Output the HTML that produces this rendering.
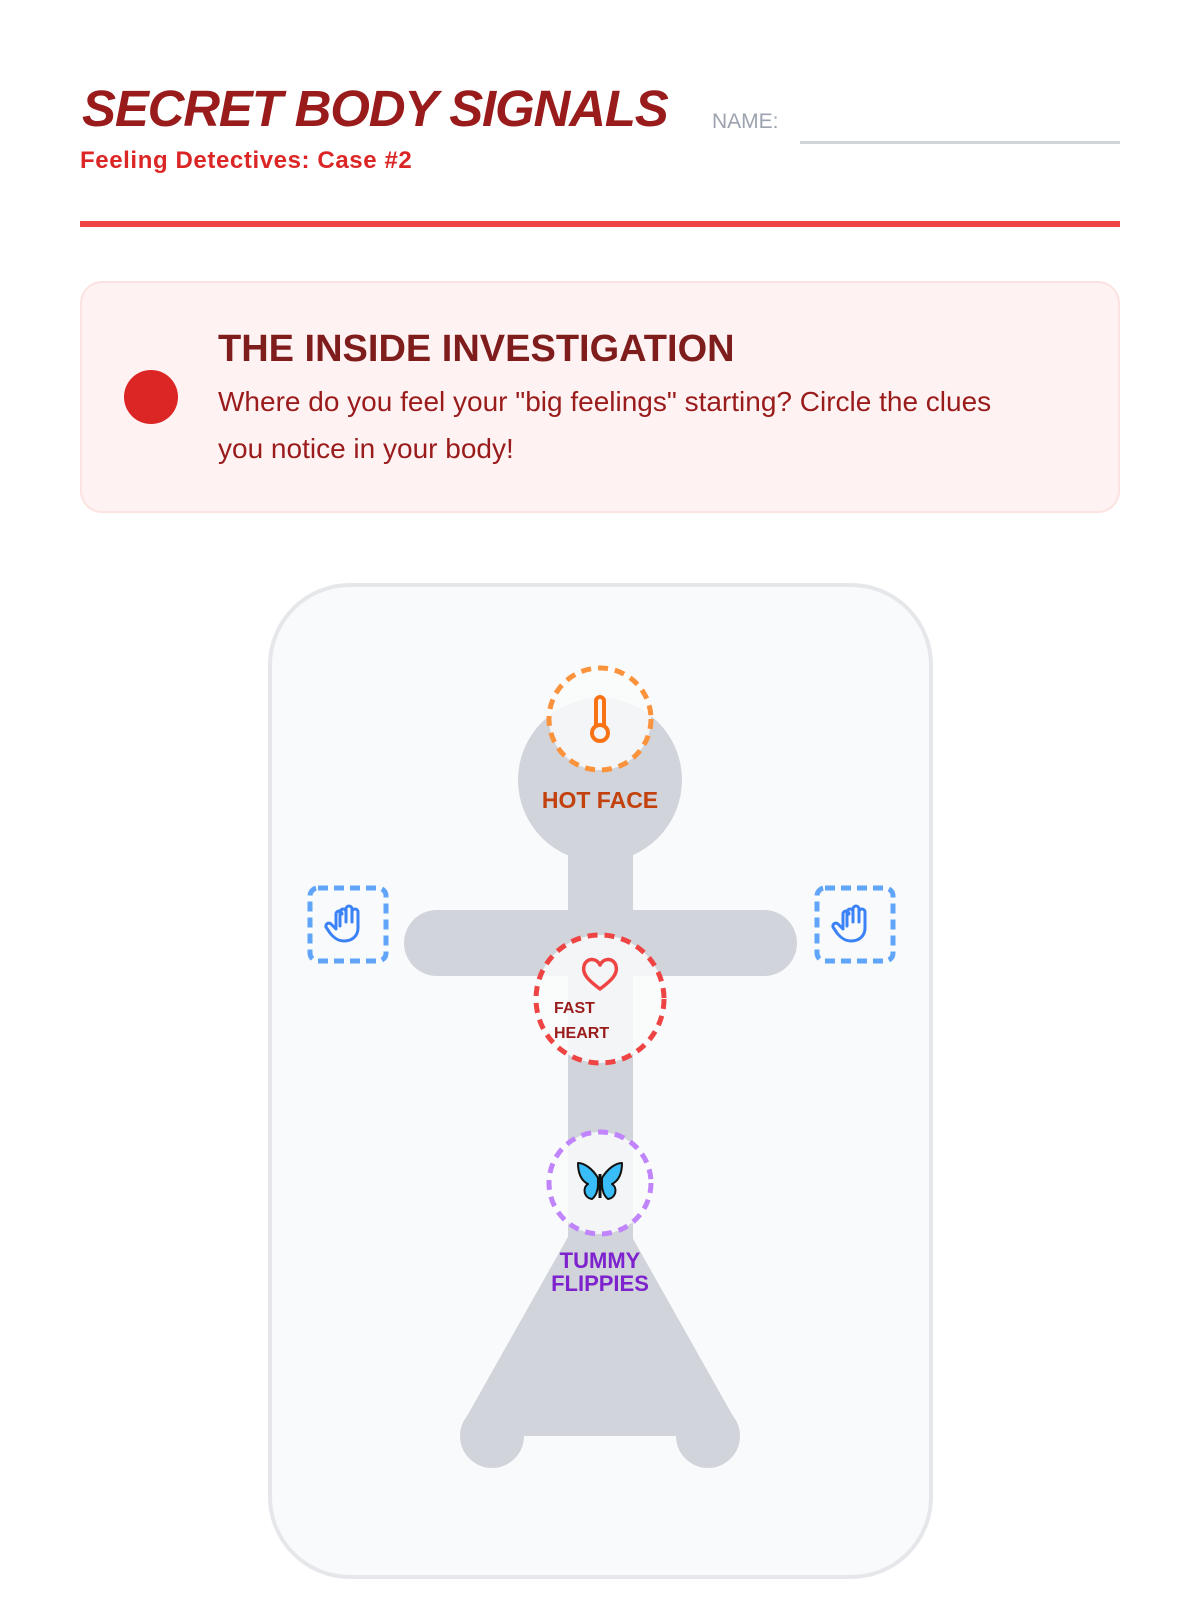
<!DOCTYPE html>
<html><head><meta charset="utf-8"><style>
html,body{margin:0;padding:0;background:#fff;width:1200px;height:1600px;overflow:hidden;font-family:"Liberation Sans",sans-serif;}
.a{position:absolute;}
</style></head><body>
<div class="a" style="left:82px;top:79px;font-size:51px;font-weight:bold;font-style:italic;color:#991b1b;letter-spacing:-1.2px;">SECRET BODY SIGNALS</div>
<div class="a" style="left:80px;top:147px;font-size:24px;font-weight:bold;color:#dc2626;letter-spacing:0.6px;">Feeling Detectives: Case #2</div>
<div class="a" style="left:712px;top:110px;font-size:21px;color:#9ca3af;">NAME:</div>
<div class="a" style="left:800px;top:141px;width:320px;height:3px;background:#d1d5db;"></div>
<div class="a" style="left:80px;top:221px;width:1040px;height:6px;background:#ef4444;"></div>
<div class="a" style="left:80px;top:281px;width:1036px;height:228px;border:2px solid #fde2e2;border-radius:22px;background:#fef2f2;"></div>
<div class="a" style="left:124px;top:370px;width:54px;height:54px;border-radius:50%;background:#dc2626;"></div>
<div class="a" style="left:218px;top:328px;font-size:38px;font-weight:bold;color:#7f1d1d;">THE INSIDE INVESTIGATION</div>
<div class="a" style="left:218px;top:378px;width:820px;font-size:28px;line-height:47px;color:#991b1b;">Where do you feel your "big feelings" starting? Circle the clues you notice in your body!</div>
<svg class="a" style="left:0;top:0" width="1200" height="1600">
<rect x="270" y="585" width="661" height="992" rx="80" fill="#f9fafb" stroke="#e5e7eb" stroke-width="4"/>
<g fill="#d1d5db">
<circle cx="600" cy="780" r="82"/>
<rect x="568" y="840" width="65" height="400"/>
<rect x="404" y="910" width="393" height="66" rx="33"/>
<polygon points="600,1180 738,1425 708,1436 492,1436 462,1425"/>
<circle cx="492" cy="1436" r="32"/>
<circle cx="708" cy="1436" r="32"/>
</g>
<circle cx="600" cy="719" r="51" fill="#fafafa" fill-opacity="0.85" stroke="#fb923c" stroke-width="5" stroke-dasharray="10,7"/>
<g stroke="#f97316" stroke-width="4" fill="none"><path d="M596,727 V701 a4,4 0 0 1 8,0 V727"/><circle cx="600" cy="733" r="8"/></g>
<text x="600" y="808" text-anchor="middle" font-size="23" font-weight="bold" fill="#c2410c" font-family="Liberation Sans">HOT FACE</text>
<circle cx="600" cy="999" r="64" fill="#fafafa" fill-opacity="0.85" stroke="#ef4444" stroke-width="5" stroke-dasharray="10,7"/>
<path d="M600,989 C588,980 582,974 584,966 C586,958 596,957 600,965 C604,957 614,958 616,966 C618,974 612,980 600,989 Z" fill="none" stroke="#ef4444" stroke-width="3.5" stroke-linejoin="round"/>
<text x="554" y="1013" font-size="16" font-weight="bold" fill="#991b1b" font-family="Liberation Sans">FAST</text>
<text x="554" y="1038" font-size="16" font-weight="bold" fill="#991b1b" font-family="Liberation Sans">HEART</text>
<circle cx="600" cy="1183" r="51" fill="#fafafa" fill-opacity="0.85" stroke="#c084fc" stroke-width="5" stroke-dasharray="10,7"/>
<g stroke="#111" stroke-width="2" fill="#38bdf8" stroke-linejoin="round">
<path d="M598,1178 C592,1168 584,1163 578,1163 C578,1172 580,1180 588,1184 C582,1188 584,1198 592,1199 C596,1196 598,1190 598,1185 Z"/>
<path d="M602,1178 C608,1168 616,1163 622,1163 C622,1172 620,1180 612,1184 C618,1188 616,1198 608,1199 C604,1196 602,1190 602,1185 Z"/>
<path d="M600,1174 V1198" stroke-width="3"/>
</g>
<text x="600" y="1268" text-anchor="middle" font-size="22" font-weight="bold" fill="#7e22ce" font-family="Liberation Sans">TUMMY</text>
<text x="600" y="1291" text-anchor="middle" font-size="22" font-weight="bold" fill="#7e22ce" font-family="Liberation Sans">FLIPPIES</text>
<rect x="310" y="888" width="76" height="73" rx="8" fill="none" stroke="#60a5fa" stroke-width="5" stroke-dasharray="10,6"/>
<rect x="817" y="888" width="76" height="73" rx="8" fill="none" stroke="#60a5fa" stroke-width="5" stroke-dasharray="10,6"/>
<g fill="none" stroke="#3b82f6" stroke-width="3" stroke-linecap="round" stroke-linejoin="round">
<path d="M340,926 V912 a3,3 0 0 1 6,0 V922 M346,913 V909 a3,3 0 0 1 6,0 V922 M352,912 a3,3 0 0 1 6,0 V928 c0,8 -6,13 -14,13 c-6,0 -10,-3 -14,-8 l-4,-6 a3,3 0 0 1 5,-3 l5,5 V914 a3,3 0 0 1 6,0"/>
<path d="M847,926 V912 a3,3 0 0 1 6,0 V922 M853,913 V909 a3,3 0 0 1 6,0 V922 M859,912 a3,3 0 0 1 6,0 V928 c0,8 -6,13 -14,13 c-6,0 -10,-3 -14,-8 l-4,-6 a3,3 0 0 1 5,-3 l5,5 V914 a3,3 0 0 1 6,0"/>
</g>
</svg>
</body></html>
